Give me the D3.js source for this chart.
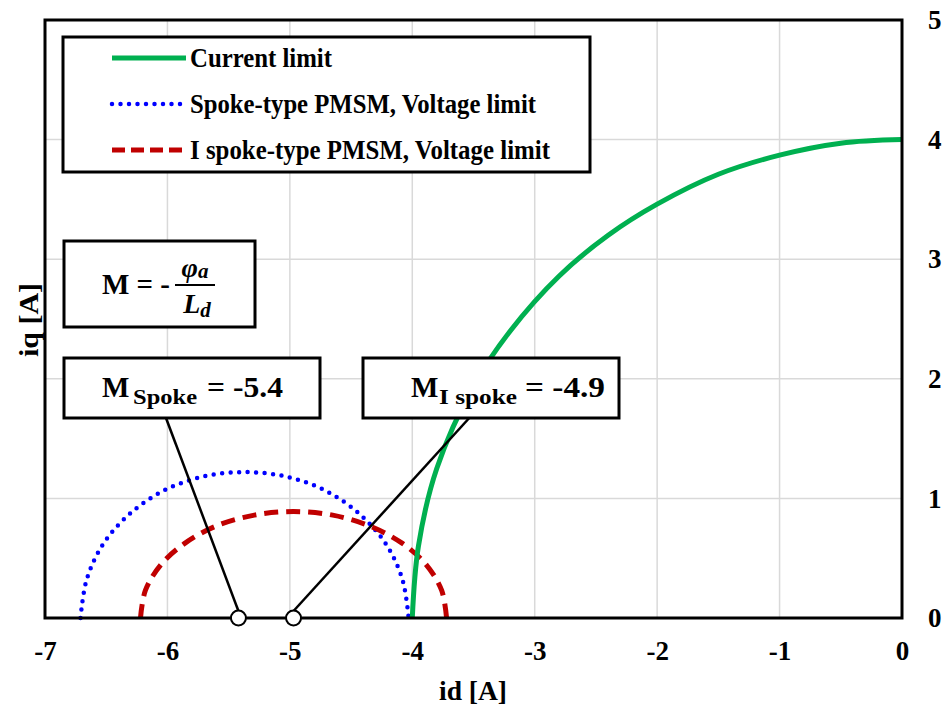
<!DOCTYPE html>
<html>
<head>
<meta charset="utf-8">
<script src="https://cdn.jsdelivr.net/npm/d3@7"></script>
<style>
  body { margin: 0; background: #fff; }
  text { font-family: "Liberation Serif", "Times New Roman", serif; font-weight: bold; }
</style>
</head>
<body>
<svg width="943" height="711"></svg>
<script>
const X_TICKS = [-7, -6, -5, -4, -3, -2, -1, 0];
const Y_TICKS = [0, 1, 2, 3, 4, 5];

// [id, iq] points
const CURRENT_LIMIT = [
  [-4, 0], [-3.95, 0.6], [-3.8, 1.25], [-3.5, 1.94], [-3.2, 2.4], [-2.8, 2.86],
  [-2.4, 3.2], [-2, 3.46], [-1.5, 3.71], [-1, 3.87], [-0.5, 3.97], [0, 4],
];
const SPOKE_VLIMIT = [
  [-6.71, 0], [-6.66, 0.32], [-6.53, 0.61], [-6.32, 0.86], [-6.04, 1.06], [-5.72, 1.18],
  [-5.37, 1.22], [-5.02, 1.18], [-4.7, 1.06], [-4.42, 0.86], [-4.21, 0.61], [-4.08, 0.32], [-4.03, 0],
];
const ISPOKE_VLIMIT = [
  [-6.22, 0], [-6.18, 0.23], [-6.05, 0.45], [-5.85, 0.63], [-5.6, 0.77], [-5.29, 0.86],
  [-4.97, 0.89], [-4.65, 0.86], [-4.35, 0.77], [-4.09, 0.63], [-3.89, 0.45], [-3.76, 0.23], [-3.72, 0],
];
const M_POINTS = [-5.42, -4.97];
const LEGEND = ['Current limit', 'Spoke-type PMSM, Voltage limit', 'I spoke-type PMSM, Voltage limit'];

const svg = d3.select('svg');
const x = d3.scaleLinear().domain([-7, 0]).range([45, 902]);
const y = d3.scaleLinear().domain([0, 5]).range([618, 20]);

// grid
svg.append('g')
  .selectAll('line')
  .data(X_TICKS)
  .enter()
  .append('line')
  .attr('x1', d => x(d)).attr('x2', d => x(d))
  .attr('y1', y(0)).attr('y2', y(5))
  .attr('stroke', '#d9d9d9').attr('stroke-width', 1.5);
svg.append('g')
  .selectAll('line')
  .data(Y_TICKS)
  .enter()
  .append('line')
  .attr('x1', x(-7)).attr('x2', x(0))
  .attr('y1', d => y(d)).attr('y2', d => y(d))
  .attr('stroke', '#d9d9d9').attr('stroke-width', 1.5);

// axes (labels only, frame drawn below)
const xAxis = svg.append('g')
  .attr('transform', `translate(0,${y(0) + 20})`)
  .call(d3.axisBottom(x).tickValues(X_TICKS).tickSize(0).tickFormat(d => String(d)));
xAxis.select('.domain').remove();
xAxis.selectAll('text').attr('font-size', 27).attr('fill', '#000');

const yAxis = svg.append('g')
  .attr('transform', `translate(${x(0) + 23},0)`)
  .call(d3.axisRight(y).tickValues(Y_TICKS).tickSize(0).tickFormat(d => String(d)));
yAxis.select('.domain').remove();
yAxis.selectAll('text').attr('font-size', 27).attr('fill', '#000');

svg.append('text').attr('x', 473).attr('y', 700).attr('text-anchor', 'middle')
  .attr('font-size', 28).attr('textLength', 68).attr('lengthAdjust', 'spacingAndGlyphs').text('id [A]');
svg.append('text').attr('transform', 'translate(38,320) rotate(-90)').attr('text-anchor', 'middle')
  .attr('font-size', 28).attr('textLength', 74).attr('lengthAdjust', 'spacingAndGlyphs').text('iq [A]');

// curves
const line = d3.line().x(d => x(d[0])).y(d => y(d[1])).curve(d3.curveCatmullRom);
svg.append('path').datum(SPOKE_VLIMIT).attr('d', line)
  .attr('fill', 'none').attr('stroke', '#0000ff').attr('stroke-width', 4.5)
  .attr('stroke-linecap', 'round').attr('stroke-dasharray', '0 8.5');
svg.append('path').datum(ISPOKE_VLIMIT).attr('d', line)
  .attr('fill', 'none').attr('stroke', '#c00000').attr('stroke-width', 5)
  .attr('stroke-dasharray', '14 8');
svg.append('path').datum(CURRENT_LIMIT).attr('d', line)
  .attr('fill', 'none').attr('stroke', '#00b050').attr('stroke-width', 5);

// frame
svg.append('rect').attr('x', x(-7)).attr('y', y(5))
  .attr('width', x(0) - x(-7)).attr('height', y(0) - y(5))
  .attr('fill', 'none').attr('stroke', '#000').attr('stroke-width', 3);

// leader lines
svg.append('line').attr('x1', 163).attr('y1', 410).attr('x2', x(M_POINTS[0])).attr('y2', y(0) - 7)
  .attr('stroke', '#000').attr('stroke-width', 2.5);
svg.append('line').attr('x1', 492).attr('y1', 393).attr('x2', x(M_POINTS[1])).attr('y2', y(0) - 7)
  .attr('stroke', '#000').attr('stroke-width', 2.5);
svg.selectAll('circle.m')
  .data(M_POINTS)
  .enter()
  .append('circle')
  .attr('cx', d => x(d)).attr('cy', y(0)).attr('r', 7.5)
  .attr('fill', '#fff').attr('stroke', '#000').attr('stroke-width', 2);

// legend
const lg = svg.append('g');
lg.append('rect').attr('x', 63).attr('y', 37).attr('width', 527).attr('height', 135)
  .attr('fill', '#fff').attr('stroke', '#000').attr('stroke-width', 3);
const legStyles = [
  { c: '#00b050', w: 5, dash: null, cap: 'butt', len: 142 },
  { c: '#0000ff', w: 4.5, dash: '0 8.5', cap: 'round', len: 346 },
  { c: '#c00000', w: 5, dash: '13 6', cap: 'butt', len: 360 },
];
LEGEND.forEach((name, i) => {
  const yy = 58 + i * 46;
  lg.append('line').attr('x1', 112).attr('x2', 186).attr('y1', yy).attr('y2', yy)
    .attr('stroke', legStyles[i].c).attr('stroke-width', legStyles[i].w)
    .attr('stroke-dasharray', legStyles[i].dash).attr('stroke-linecap', legStyles[i].cap);
  lg.append('text').attr('x', 190).attr('y', yy + 9).attr('font-size', 27)
    .attr('textLength', legStyles[i].len).attr('lengthAdjust', 'spacingAndGlyphs').text(name);
});

// formula box
svg.append('rect').attr('x', 64).attr('y', 241).attr('width', 191).attr('height', 86)
  .attr('fill', '#fff').attr('stroke', '#000').attr('stroke-width', 3);
svg.append('text').attr('x', 102).attr('y', 294).attr('font-size', 30)
  .attr('textLength', 68).attr('lengthAdjust', 'spacingAndGlyphs').text('M = -');
svg.append('text').attr('x', 195).attr('y', 277).attr('font-size', 28).attr('font-style', 'italic').attr('text-anchor', 'middle')
  .text('φ').append('tspan').attr('font-size', 21).attr('dy', 1).text('a');
svg.append('line').attr('x1', 175).attr('x2', 215).attr('y1', 285).attr('y2', 285).attr('stroke', '#000').attr('stroke-width', 2);
svg.append('text').attr('x', 197).attr('y', 313).attr('font-size', 28).attr('font-style', 'italic').attr('text-anchor', 'middle')
  .text('L').append('tspan').attr('font-size', 21).attr('dy', 4).text('d');

// M value boxes
const mBoxes = [
  { x: 64, sub: 'Spoke', val: '= -5.4', mx: 38, sx: 69, sl: 64, ex: 219, vl: 76 },
  { x: 363, sub: 'I spoke', val: '= -4.9', mx: 48, sx: 76, sl: 78, ex: 242, vl: 80 },
];
mBoxes.forEach(b => {
  svg.append('rect').attr('x', b.x).attr('y', 358).attr('width', 256).attr('height', 60)
    .attr('fill', '#fff').attr('stroke', '#000').attr('stroke-width', 3);
  svg.append('text').attr('x', b.x + b.mx).attr('y', 397).attr('font-size', 29).text('M');
  svg.append('text').attr('x', b.x + b.sx).attr('y', 404).attr('font-size', 21)
    .attr('textLength', b.sl).attr('lengthAdjust', 'spacingAndGlyphs').text(b.sub);
  svg.append('text').attr('x', b.x + b.ex - b.vl).attr('y', 397).attr('font-size', 30)
    .attr('textLength', b.vl).attr('lengthAdjust', 'spacingAndGlyphs').text(b.val);
});
</script>
</body>
</html>
